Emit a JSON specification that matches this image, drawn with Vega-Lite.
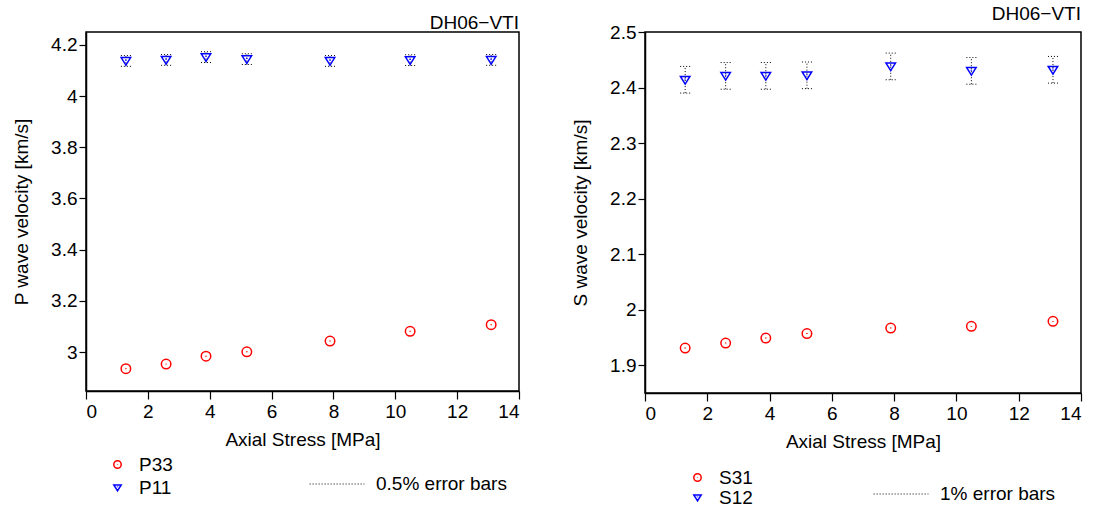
{
  "$schema": "https://vega.github.io/schema/vega-lite/v6.json",
  "background": "white",
  "padding": {"left": 11, "top": 4, "right": 5, "bottom": 0},
  "config": {
    "font": "Liberation Sans",
    "view": {"stroke": "black", "strokeWidth": 1.5},
    "axis": {
      "grid": false,
      "domainColor": "black",
      "domainWidth": 1.5,
      "tickColor": "black",
      "tickWidth": 1.2,
      "labelFontSize": 19,
      "titleFontSize": 19,
      "titleFontWeight": "normal",
      "labelColor": "black",
      "titleColor": "black",
      "labelFont": "Liberation Sans",
      "titleFont": "Liberation Sans"
    },
    "axisX": {"tickSize": 8, "labelPadding": 3, "titlePadding": 9},
    "axisY": {"tickSize": 7, "labelPadding": 2, "titlePadding": 19},
    "title": {"fontSize": 19, "fontWeight": "normal", "anchor": "end", "frame": "group", "color": "black", "offset": -1, "baseline": "alphabetic", "font": "Liberation Sans"},
    "legend": {"labelFontSize": 19, "labelColor": "black", "labelFont": "Liberation Sans"}
  },
  "datasets": {
    "pw": [
      {"stress": 1.29, "v": 2.935, "lo": 2.935, "hi": 2.935, "series": "P33"},
      {"stress": 2.59, "v": 2.953, "lo": 2.953, "hi": 2.953, "series": "P33"},
      {"stress": 3.88, "v": 2.984, "lo": 2.984, "hi": 2.984, "series": "P33"},
      {"stress": 5.2, "v": 3.001, "lo": 3.001, "hi": 3.001, "series": "P33"},
      {"stress": 7.89, "v": 3.043, "lo": 3.043, "hi": 3.043, "series": "P33"},
      {"stress": 10.48, "v": 3.081, "lo": 3.081, "hi": 3.081, "series": "P33"},
      {"stress": 13.1, "v": 3.107, "lo": 3.107, "hi": 3.107, "series": "P33"},
      {"stress": 1.29, "v": 4.137, "lo": 4.116, "hi": 4.158, "series": "P11"},
      {"stress": 2.59, "v": 4.141, "lo": 4.120, "hi": 4.162, "series": "P11"},
      {"stress": 3.88, "v": 4.152, "lo": 4.131, "hi": 4.173, "series": "P11"},
      {"stress": 5.2, "v": 4.144, "lo": 4.123, "hi": 4.165, "series": "P11"},
      {"stress": 7.89, "v": 4.137, "lo": 4.116, "hi": 4.158, "series": "P11"},
      {"stress": 10.48, "v": 4.140, "lo": 4.119, "hi": 4.161, "series": "P11"},
      {"stress": 13.1, "v": 4.141, "lo": 4.120, "hi": 4.162, "series": "P11"}
    ],
    "sw": [
      {"stress": 1.29, "v": 1.931, "lo": 1.931, "hi": 1.931, "series": "S31"},
      {"stress": 2.59, "v": 1.940, "lo": 1.940, "hi": 1.940, "series": "S31"},
      {"stress": 3.88, "v": 1.949, "lo": 1.949, "hi": 1.949, "series": "S31"},
      {"stress": 5.2, "v": 1.957, "lo": 1.957, "hi": 1.957, "series": "S31"},
      {"stress": 7.89, "v": 1.967, "lo": 1.967, "hi": 1.967, "series": "S31"},
      {"stress": 10.48, "v": 1.970, "lo": 1.970, "hi": 1.970, "series": "S31"},
      {"stress": 13.1, "v": 1.979, "lo": 1.979, "hi": 1.979, "series": "S31"},
      {"stress": 1.29, "v": 2.414, "lo": 2.390, "hi": 2.438, "series": "S12"},
      {"stress": 2.59, "v": 2.421, "lo": 2.397, "hi": 2.445, "series": "S12"},
      {"stress": 3.88, "v": 2.421, "lo": 2.397, "hi": 2.445, "series": "S12"},
      {"stress": 5.2, "v": 2.422, "lo": 2.398, "hi": 2.446, "series": "S12"},
      {"stress": 7.89, "v": 2.438, "lo": 2.414, "hi": 2.462, "series": "S12"},
      {"stress": 10.48, "v": 2.430, "lo": 2.406, "hi": 2.454, "series": "S12"},
      {"stress": 13.1, "v": 2.432, "lo": 2.408, "hi": 2.456, "series": "S12"}
    ]
  },
  "spacing": 49,
  "resolve": {
    "scale": {"color": "independent", "shape": "independent", "strokeDash": "independent"},
    "legend": {"color": "independent", "shape": "independent", "strokeDash": "independent"}
  },
  "hconcat": [
    {
      "title": "DH06−VTI",
      "width": 433,
      "height": 359,
      "data": {"name": "pw"},
      "layer": [
        {
          "transform": [{"filter": "datum.series === 'P11'"}, {"calculate": "'0.5% error bars'", "as": "eb"}],
          "mark": {"type": "rule", "color": "black", "strokeWidth": 1},
          "encoding": {
            "x": {"field": "stress", "type": "quantitative"},
            "y": {"field": "lo", "type": "quantitative"},
            "y2": {"field": "hi"},
            "strokeDash": {
              "field": "eb", "type": "nominal",
              "scale": {"range": [[1, 2]]},
              "legend": {"orient": "none", "legendX": 223, "legendY": 424, "symbolType": "stroke", "symbolSize": 3000, "symbolStrokeColor": "black", "symbolStrokeWidth": 1, "labelOffset": 11, "title": null}
            }
          }
        },
        {
          "transform": [{"filter": "datum.series === 'P11'"}],
          "mark": {"type": "rule", "color": "black", "strokeWidth": 1, "strokeDash": [1, 2], "xOffset": -5, "x2Offset": 5},
          "encoding": {"x": {"field": "stress", "type": "quantitative"}, "x2": {"field": "stress"}, "y": {"field": "hi", "type": "quantitative"}}
        },
        {
          "transform": [{"filter": "datum.series === 'P11'"}],
          "mark": {"type": "rule", "color": "black", "strokeWidth": 1, "strokeDash": [1, 2], "xOffset": -5, "x2Offset": 5},
          "encoding": {"x": {"field": "stress", "type": "quantitative"}, "x2": {"field": "stress"}, "y": {"field": "lo", "type": "quantitative"}}
        },
        {
          "mark": {"type": "point", "filled": false, "strokeWidth": 1.5, "size": 90, "opacity": 1},
          "encoding": {
            "x": {"field": "stress", "type": "quantitative", "title": "Axial Stress [MPa]", "scale": {"domain": [0, 14], "nice": false}, "axis": {"values": [0, 2, 4, 6, 8, 10, 12, 14]}},
            "y": {"field": "v", "type": "quantitative", "title": "P wave velocity [km/s]", "scale": {"domain": [2.848, 4.25], "nice": false, "zero": false}, "axis": {"values": [3, 3.2, 3.4, 3.6, 3.8, 4, 4.2], "format": "~g"}},
            "color": {
              "field": "series", "type": "nominal",
              "scale": {"domain": ["P33", "P11"], "range": ["#ff0000", "#0000ff"]},
              "legend": {"orient": "none", "legendX": 22, "legendY": 423, "title": null, "symbolSize": 55, "symbolStrokeWidth": 1.5, "labelOffset": 12, "rowPadding": 3}
            },
            "shape": {
              "field": "series", "type": "nominal",
              "scale": {"domain": ["P33", "P11"], "range": ["M -1 0 A 1 1 0 1 0 1 0 A 1 1 0 1 0 -1 0 Z M 0 -0.1 L 0 0.1", "M -1 -0.7 L 1 -0.7 L 0 0.9 Z M 0 -0.25 L 0 -0.05"]},
              "legend": {"orient": "none", "legendX": 22, "legendY": 423, "title": null}
            }
          }
        }
      ]
    },
    {
      "title": "DH06−VTI",
      "width": 436,
      "height": 361,
      "data": {"name": "sw"},
      "layer": [
        {
          "transform": [{"filter": "datum.series === 'S12'"}, {"calculate": "'1% error bars'", "as": "eb"}],
          "mark": {"type": "rule", "color": "black", "strokeWidth": 1},
          "encoding": {
            "x": {"field": "stress", "type": "quantitative"},
            "y": {"field": "lo", "type": "quantitative"},
            "y2": {"field": "hi"},
            "strokeDash": {
              "field": "eb", "type": "nominal",
              "scale": {"range": [[1, 2]]},
              "legend": {"orient": "none", "legendX": 228, "legendY": 434, "symbolType": "stroke", "symbolSize": 3000, "symbolStrokeColor": "black", "symbolStrokeWidth": 1, "labelOffset": 11, "title": null}
            }
          }
        },
        {
          "transform": [{"filter": "datum.series === 'S12'"}],
          "mark": {"type": "rule", "color": "black", "strokeWidth": 1, "strokeDash": [1, 2], "xOffset": -5, "x2Offset": 5},
          "encoding": {"x": {"field": "stress", "type": "quantitative"}, "x2": {"field": "stress"}, "y": {"field": "hi", "type": "quantitative"}}
        },
        {
          "transform": [{"filter": "datum.series === 'S12'"}],
          "mark": {"type": "rule", "color": "black", "strokeWidth": 1, "strokeDash": [1, 2], "xOffset": -5, "x2Offset": 5},
          "encoding": {"x": {"field": "stress", "type": "quantitative"}, "x2": {"field": "stress"}, "y": {"field": "lo", "type": "quantitative"}}
        },
        {
          "mark": {"type": "point", "filled": false, "strokeWidth": 1.5, "size": 90, "opacity": 1},
          "encoding": {
            "x": {"field": "stress", "type": "quantitative", "title": "Axial Stress [MPa]", "scale": {"domain": [0, 14], "nice": false}, "axis": {"values": [0, 2, 4, 6, 8, 10, 12, 14]}},
            "y": {"field": "v", "type": "quantitative", "title": "S wave velocity [km/s]", "scale": {"domain": [1.85, 2.5], "nice": false, "zero": false}, "axis": {"values": [1.9, 2, 2.1, 2.2, 2.3, 2.4, 2.5], "format": "~g"}},
            "color": {
              "field": "series", "type": "nominal",
              "scale": {"domain": ["S31", "S12"], "range": ["#ff0000", "#0000ff"]},
              "legend": {"orient": "none", "legendX": 43, "legendY": 436, "title": null, "symbolSize": 55, "symbolStrokeWidth": 1.5, "labelOffset": 12, "rowPadding": -2}
            },
            "shape": {
              "field": "series", "type": "nominal",
              "scale": {"domain": ["S31", "S12"], "range": ["M -1 0 A 1 1 0 1 0 1 0 A 1 1 0 1 0 -1 0 Z M 0 -0.1 L 0 0.1", "M -1 -0.7 L 1 -0.7 L 0 0.9 Z M 0 -0.25 L 0 -0.05"]},
              "legend": {"orient": "none", "legendX": 43, "legendY": 436, "title": null}
            }
          }
        }
      ]
    }
  ]
}
